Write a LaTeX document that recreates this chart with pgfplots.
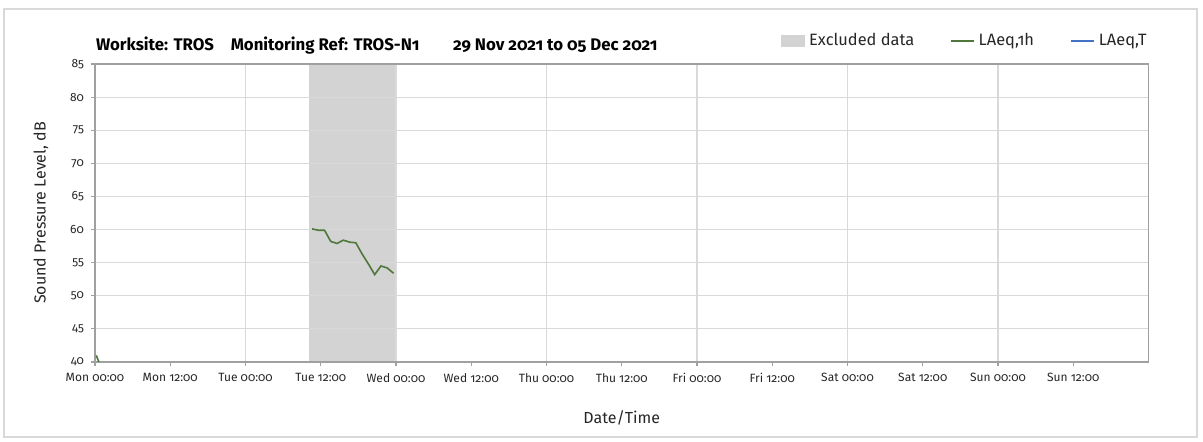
\documentclass[border=0pt]{standalone}
\usepackage{fontspec}
\setmainfont{Fira Sans}[Numbers=OldStyle]
\usepackage{pgfplots}
\pgfplotsset{compat=1.18}

\definecolor{gridgray}{RGB}{217,217,217}
\definecolor{axgray}{RGB}{160,160,160}
\definecolor{exgray}{RGB}{211,211,211}
\definecolor{laeqgreen}{RGB}{79,119,58}
\definecolor{laeqblue}{RGB}{68,114,196}

\begin{document}
\begin{tikzpicture}
% chart area (1203x442 px at 2 px per pt)
\path (0,0) rectangle (601.5pt,221pt);
\draw[gridgray, line width=0.6pt] (2pt,2.5pt) rectangle (598.5pt,216.5pt);

\node[anchor=west, font=\fontsize{8.4}{10}\selectfont\bfseries] at (44.5pt,198pt)
  {Worksite: TROS\quad Monitoring Ref: TROS-N1\qquad 29 Nov 2021 to 05 Dec 2021};

\begin{axis}[
    at={(47.5pt,40pt)}, anchor=south west,
    scale only axis,
    width=526.75pt, height=149pt,
    xmin=0, xmax=168,
    ymin=40, ymax=85,
    set layers,
    xtick={0,12,...,156},
    xticklabels={Mon 00:00,Mon 12:00,Tue 00:00,Tue 12:00,Wed 00:00,Wed 12:00,Thu 00:00,Thu 12:00,Fri 00:00,Fri 12:00,Sat 00:00,Sat 12:00,Sun 00:00,Sun 12:00},
    extra x ticks={24,48,...,168},
    extra x tick labels={},
    extra x tick style={grid=major, major tick length=0pt},
    ytick={40,45,...,85},
    ymajorgrids=true,
    grid style={gridgray, line width=0.6pt},
    axis line style={axgray, line width=0.7pt},
    tick style={axgray, line width=0.6pt},
    tick align=outside,
    major tick length=2pt,
    xtick pos=bottom, ytick pos=left,
    /pgf/number format/assume math mode=true,
    tick label style={font=\fontsize{6}{7}\selectfont, text=black!85},
    xlabel={Date/Time},
    ylabel={Sound Pressure Level, dB},
    label style={font=\fontsize{8}{10}\selectfont, text=black!85},
    xlabel style={yshift=-5pt},
    ylabel style={yshift=4pt},
    legend columns=3,
    legend style={at={(1.008,1.077)}, anchor=east, draw=none, fill=none,
      font=\fontsize{8.2}{10}\selectfont, text=black!85,
      /tikz/every even column/.append style={column sep=16pt}},
    legend image code/.code={\draw[#1] (0cm,0cm) -- (0.4cm,0cm);},
]
\addplot[fill=exgray, draw=none, area legend, on layer=axis background,
  legend image code/.code={\fill[exgray] (0cm,-0.11cm) rectangle (0.42cm,0.11cm);}]
  coordinates {(34.2,85) (48,85)} \closedcycle;
\addlegendentry{Excluded data}

\addplot[laeqgreen, line width=0.8pt] coordinates {
  (34.6,60.1) (35.6,59.9) (36.6,59.9) (37.6,58.2) (38.6,57.9) (39.6,58.4)
  (40.6,58.1) (41.6,58.0) (42.6,56.3) (43.6,54.8) (44.6,53.2) (45.6,54.5)
  (46.6,54.2) (47.6,53.4)
};
\addlegendentry{LAeq,1h}

\addplot[laeqblue, line width=1pt] coordinates {(0,30) (1,30)};
\addlegendentry{LAeq,T}

\addplot[laeqgreen, line width=0.8pt, forget plot] coordinates {(0.2,41) (0.7,39.8)};
\end{axis}
\end{tikzpicture}
\end{document}
